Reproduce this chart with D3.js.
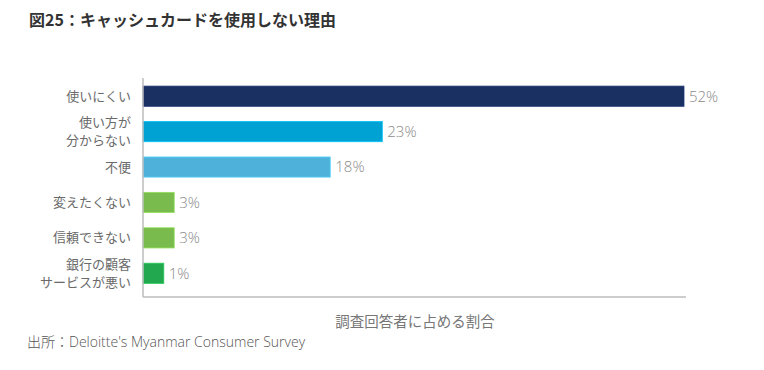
<!DOCTYPE html>
<html>
<head>
<meta charset="utf-8">
<script src="https://cdn.jsdelivr.net/npm/d3@7"></script>
<style>
  body { margin: 0; background: #fff; }
  text { font-family: "Open Sans", "Noto Sans CJK JP", sans-serif; }
</style>
</head>
<body>
<script>
// chart data
var categories = [["使いにくい"], ["使い方が", "分からない"], ["不便"], ["変えたくない"], ["信頼できない"], ["銀行の顧客", "サービスが悪い"]];
var barValues = [52, 23, 18, 3, 3, 2];
var valueLabels = ["52%", "23%", "18%", "3%", "3%", "1%"];
var barColors = ["#1a2f62", "#00a2d3", "#4eb1d9", "#79bb4d", "#79bb4d", "#22a84f"];

var width = 764, height = 370;

var svg = d3.select("body")
            .append("svg")
            .attr("width", width)
            .attr("height", height);

// title and source
svg.append("text")
   .attr("x", 29).attr("y", 26)
   .attr("font-size", 16).attr("font-weight", "bold")
   .attr("fill", "#333")
   .style("font-family", "'Noto Sans CJK JP', sans-serif")
   .text("図25：キャッシュカードを使用しない理由");

svg.append("text")
   .attr("x", 27).attr("y", 347)
   .attr("font-size", 14).attr("fill", "#555")
   .attr("font-weight", 300)
   .text("出所：Deloitte's Myanmar Consumer Survey");

// scales
var xScale = d3.scaleLinear()
               .domain([0, 52])
               .range([143, 684]);

var yScale = d3.scaleBand()
               .domain(d3.range(categories.length))
               .range([78.5, 291])
               .paddingInner(0.43)
               .paddingOuter(0.215);

// bars
svg.append("g")
   .selectAll("rect")
   .data(barValues)
   .enter()
   .append("rect")
     .attr("x", xScale(0))
     .attr("y", (d, i) => yScale(i))
     .attr("width", d => xScale(d) - xScale(0))
     .attr("height", yScale.bandwidth())
     .attr("fill", (d, i) => barColors[i])
     .attr("stroke", (d, i) => d3.color(barColors[i]).brighter(0.5))
     .attr("stroke-width", 0.8);

// value labels
svg.append("g")
   .selectAll("text")
   .data(barValues)
   .enter()
   .append("text")
     .attr("x", d => xScale(d) + 5)
     .attr("y", (d, i) => yScale(i) + yScale.bandwidth() / 2)
     .attr("dy", "0.36em")
     .attr("font-size", 15)
     .attr("font-weight", 300)
     .attr("fill", "#8a8a8a")
     .text((d, i) => valueLabels[i]);

// category labels, one text per line
categories.forEach(function(lines, i) {
  var cy = yScale(i) + yScale.bandwidth() / 2;
  lines.forEach(function(t, j) {
    svg.append("text")
       .attr("x", 131)
       .attr("y", cy + (j - (lines.length - 1) / 2) * 18)
       .attr("dy", "0.35em")
       .attr("text-anchor", "end")
       .attr("font-size", 13)
       .attr("fill", "#6a6a6a")
       .style("font-family", "'Noto Sans CJK JP', sans-serif")
       .text(t);
  });
});

// axes lines
svg.append("line")
   .attr("x1", xScale(0)).attr("x2", xScale(0))
   .attr("y1", 78).attr("y2", 297)
   .attr("stroke", "#bdbdbd").attr("stroke-width", 1.5);

svg.append("line")
   .attr("x1", xScale(0)).attr("x2", 686)
   .attr("y1", 297).attr("y2", 297)
   .attr("stroke", "#bdbdbd").attr("stroke-width", 1.5);

// axis title
svg.append("text")
   .attr("x", 415).attr("y", 322)
   .attr("dy", "0.35em")
   .attr("text-anchor", "middle")
   .attr("font-size", 14.5)
   .attr("fill", "#777")
   .style("font-family", "'Noto Sans CJK JP', sans-serif")
   .text("調査回答者に占める割合");
</script>
</body>
</html>
